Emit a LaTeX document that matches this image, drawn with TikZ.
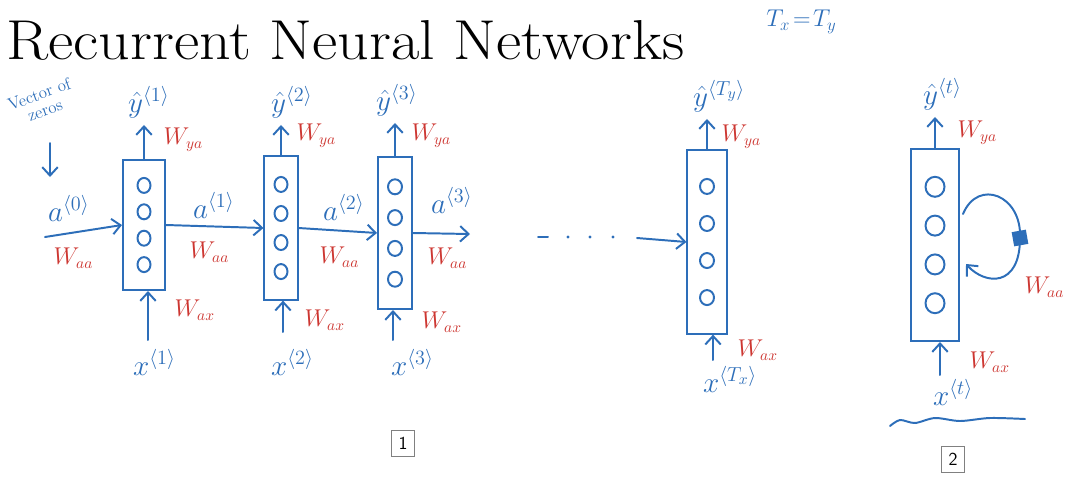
\documentclass[tikz,border=0pt]{standalone}
\usepackage{amsmath}
\usetikzlibrary{arrows.meta,calc}
\definecolor{penblue}{RGB}{45,110,185}
\definecolor{penred}{RGB}{205,55,50}
\tikzset{
  cell/.style={draw=penblue, line width=1.4pt, rectangle, inner sep=0pt},
  pen/.style={penblue, line width=1.4pt, line cap=round},
  flow/.style={pen, -{Straight Barb[length=6pt,width=11pt]}},
  vlab/.style={text=penblue, font=\fontsize{22}{26}\selectfont, anchor=base west, inner sep=2pt},
  wlab/.style={text=penred, font=\fontsize{16}{19}\selectfont, anchor=west, inner sep=1pt},
  tag/.style={draw=gray, line width=0.6pt, font=\sffamily\fontsize{13}{15}\selectfont,
    minimum width=0.58cm, minimum height=0.65cm, inner sep=0pt},
}
\begin{document}
\begin{tikzpicture}[x=0.025cm, y=-0.025cm]
  \useasboundingbox (0,0) rectangle (1086,476);
  % title
  \node[anchor=base west, inner sep=0pt, xscale=1.1, font=\fontsize{40}{44}\selectfont] (title) at (6,59) {Recurrent Neural Networks};
  \node[text=penblue, font=\fontsize{17}{20}\selectfont, anchor=west, inner sep=0pt] (txty) at (766,22) {$T_x\!=\!T_y$};
  % the unrolled cells
  \node[cell, minimum width=1.05cm, minimum height=3.25cm] (c1) at (144,225) {};
  \node[cell, minimum width=0.83cm, minimum height=3.58cm] (c2) at (281,228) {};
  \node[cell, minimum width=0.85cm, minimum height=3.8cm] (c3) at (395,233) {};
  \node[cell, minimum width=0.98cm, minimum height=4.58cm] (c4) at (707,242) {};
  % the rolled cell
  \node[cell, minimum width=1.2cm, minimum height=4.8cm] (c5) at (935,245) {};
  % hidden units
  \foreach \c/\rx/\ry in {c1/6.5/7.5, c2/6.5/7.5, c3/7/7.5, c4/7/7.5, c5/9.5/10}
    \foreach \k in {1,...,4}
      \draw[pen] ($(\c.north)!\k/5!(\c.south)$) ellipse (\rx*1 and \ry*1);
  % outputs
  \node[vlab] (y1) at (125,112) {$\hat{y}^{\langle 1\rangle}$};
  \node[vlab] (y2) at (268,112) {$\hat{y}^{\langle 2\rangle}$};
  \node[vlab] (y3) at (373,110) {$\hat{y}^{\langle 3\rangle}$};
  \node[vlab] (y4) at (690,106) {$\hat{y}^{\langle T_y\rangle}$};
  \node[vlab] (y5) at (920,104) {$\hat{y}^{\langle t\rangle}$};
  \foreach \i in {1,...,5}
    \draw[flow, shorten >=3pt] (c\i.north) -- (c\i.north |- y\i.south);
  % inputs
  \node[vlab] (x1) at (130,375) {$x^{\langle 1\rangle}$};
  \node[vlab] (x2) at (268,375) {$x^{\langle 2\rangle}$};
  \node[vlab] (x3) at (388,375) {$x^{\langle 3\rangle}$};
  \node[vlab] (x4) at (700,392) {$x^{\langle T_x\rangle}$};
  \node[vlab] (x5) at (930,405) {$x^{\langle t\rangle}$};
  \coordinate (xt1) at (148,340);
  \coordinate (xt2) at (283,332);
  \coordinate (xt3) at (393,340);
  \coordinate (xt4) at (713,360);
  \coordinate (xt5) at (940,375);
  \foreach \i in {1,...,5}
    \draw[flow] (xt\i) -- (xt\i |- c\i.south);
  % activations passed along
  \node[anchor=center, rotate=20, align=center, text=penblue, inner sep=0pt, font=\fontsize{12}{12}\selectfont] (vz) at (42,102) {Vector of\\zeros};
  \coordinate (zt) at (50,143);
  \coordinate (zh) at (50,177);
  \draw[flow] (zt) -- (zh);
  \node[vlab] (a0) at (45,221) {$a^{\langle 0\rangle}$};
  \node[vlab] (a1) at (190,218) {$a^{\langle 1\rangle}$};
  \node[vlab] (a2) at (320,220) {$a^{\langle 2\rangle}$};
  \node[vlab] (a3) at (428,213) {$a^{\langle 3\rangle}$};
  \coordinate (a0in) at (45,237);
  \coordinate (a3out) at (470,234);
  \draw[flow] (a0in) -- (c1.west);
  \draw[flow] (c1.east) -- (c2.west);
  \draw[flow] (c2.east) -- (c3.west);
  \draw[flow] (c3.east) -- (a3out);
  % ... up to the last step
  \coordinate (dash) at (538,237);
  \draw[pen] (dash) -- ++(10,0);
  \foreach \d in {568,590,613}
    \fill[penblue] (\d,237) circle (1.6);
  \coordinate (a4in) at (637,238);
  \draw[flow] (a4in) -- (c4.west);
  % recurrence of the rolled cell
  \coordinate (lpin) at (963,214);
  \coordinate (wmid) at (1020,238);
  \coordinate (lpout) at (966,264);
  \draw[flow] (lpin) .. controls (978,178) and (1022,195) .. (wmid)
    .. controls (1020,288) and (985,285) .. (lpout);
  \node[fill=penblue, minimum size=0.36cm, inner sep=0pt, rotate=10] (wsq) at (wmid) {};
  % weights
  \node[wlab] (wya1) at (162,140) {$W_{ya}$};
  \node[wlab] (wax1) at (173,310) {$W_{ax}$};
  \node[wlab] (waa0) at (52,258) {$W_{aa}$};
  \node[wlab] (waa1) at (188,252) {$W_{aa}$};
  \node[wlab] (wya2) at (295,136) {$W_{ya}$};
  \node[wlab] (wax2) at (303,320) {$W_{ax}$};
  \node[wlab] (waa2) at (318,257) {$W_{aa}$};
  \node[wlab] (wya3) at (410,136) {$W_{ya}$};
  \node[wlab] (wax3) at (420,322) {$W_{ax}$};
  \node[wlab] (waa3) at (426,258) {$W_{aa}$};
  \node[wlab] (wya4) at (720,137) {$W_{ya}$};
  \node[wlab] (wax4) at (736,350) {$W_{ax}$};
  \node[wlab] (wya5) at (956,133) {$W_{ya}$};
  \node[wlab] (waa5) at (1023,287) {$W_{aa}$};
  \node[wlab] (wax5) at (968,362) {$W_{ax}$};
  % underline of the rolled view
  \draw[pen] plot[smooth] coordinates {(890,426) (900,420) (915,423) (935,418) (960,421) (990,418) (1025,419)};
  % panel tags
  \node[tag] (tag1) at (403,443) {1};
  \node[tag] (tag2) at (953,459) {2};
\end{tikzpicture}
\end{document}
